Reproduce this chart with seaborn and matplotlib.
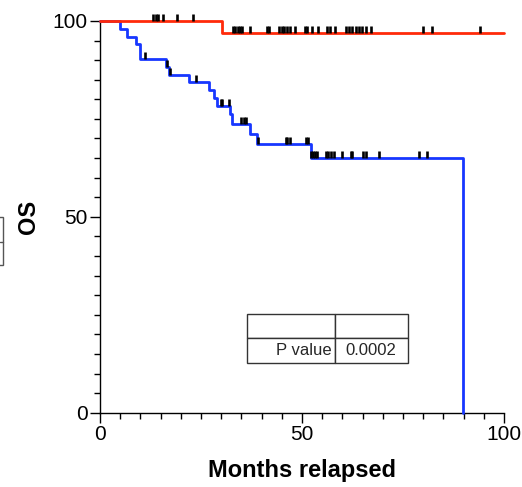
import numpy as np
import pandas as pd
import matplotlib
matplotlib.use("Agg")
import matplotlib.pyplot as plt
import seaborn as sns
from matplotlib.patches import Rectangle
from matplotlib.lines import Line2D

# ---- data ----
blue_times = [0, 5.0, 6.7, 9.0, 9.9, 16.3, 17.1, 22.1, 27.0, 28.1, 29.0, 32.2, 32.6,
              37.0, 38.9, 52.1, 89.9, 89.9]
blue_levels = [100, 97.9, 96.0, 94.2, 90.3, 88.3, 86.3, 84.5, 82.5, 80.3, 78.2, 76.3,
               73.7, 71.2, 68.6, 64.9, 64.9, 0]
blue_censor = [11.1, 16.7, 17.2, 23.8, 30.0, 30.3, 32.0, 35.0, 35.6, 36.2, 39.0, 46.0,
               46.4, 47.0, 51.0, 51.6, 52.2, 52.6, 53.2, 53.8, 55.9, 56.5, 57.2, 57.9,
               60.0, 62.0, 62.3, 65.0, 65.8, 69.0, 79.0, 80.9]

red_times = [0, 30.3, 100]
red_levels = [100, 97.0, 97.0]
red_censor = [13.2, 13.8, 14.3, 15.7, 19.1, 23.0, 32.8, 33.3, 34.1, 34.7, 35.2, 37.1,
              41.3, 41.8, 44.3, 45.0, 45.6, 46.4, 47.0, 48.3, 50.7, 51.3, 52.4, 54.0,
              56.1, 56.9, 58.2, 60.8, 61.6, 62.4, 63.3, 64.1, 64.9, 65.8, 67.0, 80.0,
              82.1, 94.1]

x_ticks = [0, 50, 100]
y_ticks = [0, 50, 100]
x_label = "Months relapsed"
y_label = "OS"
table_text = [["", ""], ["P value", "0.0002"]]

BLUE = "#1737FF"
RED = "#FF2A0A"

sns.set_theme(style="ticks")
plt.rcParams["font.family"] = ["Liberation Sans", "DejaVu Sans"]

fig = plt.figure(figsize=(5.22, 4.87), dpi=100)
ax = fig.add_axes([0.1916, 0.1526, 0.774, 0.8043])


def level_at(times, levels, t):
    idx = np.searchsorted(np.array(times[:-1] if times[-1] == times[-2] else times), t, side="right") - 1
    return levels[idx]


blue_df = pd.DataFrame({"t": blue_times, "s": blue_levels})
red_df = pd.DataFrame({"t": red_times, "s": red_levels})

sns.lineplot(data=blue_df, x="t", y="s", ax=ax, estimator=None, sort=False,
             drawstyle="steps-post", color=BLUE, linewidth=2.0, clip_on=False, zorder=3)
sns.lineplot(data=red_df, x="t", y="s", ax=ax, estimator=None, sort=False,
             drawstyle="steps-post", color=RED, linewidth=2.0, clip_on=False, zorder=4)

tick_h = 1.8
bl = [level_at(blue_times, blue_levels, t) for t in blue_censor]
rl = [level_at(red_times, red_levels, t) for t in red_censor]
ax.vlines(blue_censor, bl, np.array(bl) + tick_h, color="black", linewidth=1.9, zorder=5, clip_on=False)
ax.vlines(red_censor, rl, np.array(rl) + tick_h, color="black", linewidth=1.9, zorder=5, clip_on=False)

ax.set_xlim(0, 100)
ax.set_ylim(0, 100)
ax.set_xticks(x_ticks)
ax.set_yticks(y_ticks)
ax.set_xticks(np.arange(0, 101, 5), minor=True)
ax.set_yticks(np.arange(0, 101, 5), minor=True)
ax.tick_params(axis="both", which="major", length=7, width=1.0, color="black",
               labelsize=15, labelcolor="black", pad=2)
ax.tick_params(axis="both", which="minor", length=4, width=1.0, color="black")
sns.despine(ax=ax)
for sp in ["left", "bottom"]:
    ax.spines[sp].set_color("black")
    ax.spines[sp].set_linewidth(1.0)

ax.set_xlabel(x_label, fontsize=17, fontweight="bold", labelpad=11, color="black")
ax.set_ylabel(y_label, fontsize=17, fontweight="bold", labelpad=9, color="black")

tbl = ax.table(cellText=table_text, cellLoc="center",
               colWidths=[0.545, 0.455], bbox=[0.3646, 0.1277, 0.397, 0.1243])
tbl.auto_set_font_size(False)
for (r, c), cell in tbl.get_celld().items():
    cell.set_edgecolor("#333333")
    cell.set_linewidth(1.0)
    cell.set_fontsize(12)
    if c == 0:
        cell.get_text().set_ha("right")
        cell.PAD = 0.03

# partial box at the left edge
W, H = 522, 487
fig.patches.append(Rectangle((-6 / W, (H - 265) / H), 9 / W, 48 / H, transform=fig.transFigure,
                             fill=False, edgecolor="#555555", linewidth=1.0))
fig.lines.append(Line2D([0, 3 / W], [(H - 242) / H] * 2, transform=fig.transFigure,
                        color="#555555", linewidth=1.0))

fig.savefig("out.png", dpi=100)
